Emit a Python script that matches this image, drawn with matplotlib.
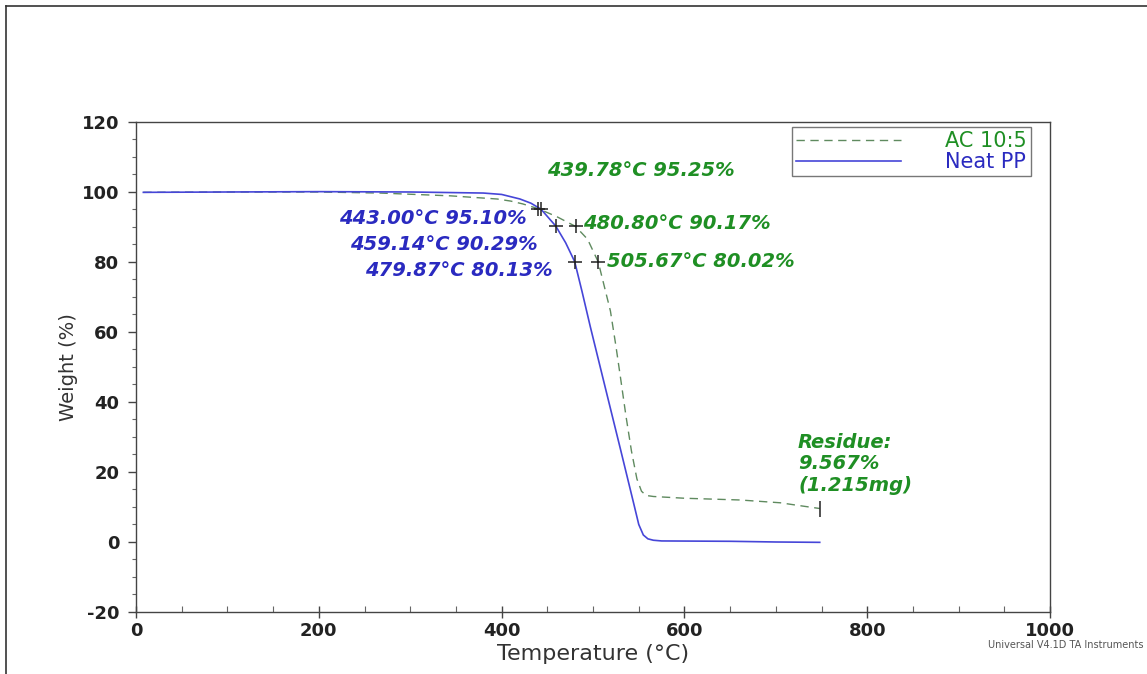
import numpy as np
import matplotlib
matplotlib.use("Agg")
import matplotlib.pyplot as plt
from matplotlib.lines import Line2D
from matplotlib.ticker import MultipleLocator


# constants
DPI = 100
FIG_SIZE = (11.47, 6.74)
plt.rcParams["axes.unicode_minus"] = False

GREEN_LINE = "#5f8a5f"
GREEN_TEXT = "#1f8f24"
BLUE_LINE = "#4646d8"
BLUE_TEXT = "#2a2ac0"

# data
# Neat PP
pp_temp = [8, 100, 200, 300, 380, 400, 420, 432, 443.00, 459.14, 470, 479.87,
           488, 497, 513, 530, 544, 550, 555, 560, 566, 575, 650, 700, 748]
pp_weight = [99.9, 100.0, 100.1, 100.0, 99.7, 99.3, 98.0, 96.8, 95.10, 90.29,
             85.5, 80.13, 71.5, 61.5, 44.5, 26.5, 11.5, 5.0, 2.0, 0.9, 0.5,
             0.3, 0.2, 0.0, -0.1]

# AC 10:5
ac_temp = [8, 100, 200, 267, 344, 395, 410, 423, 439.78, 460, 480.80, 494,
           505.67, 519, 525, 530, 536, 542, 548, 553, 558, 566, 600, 661, 705,
           723, 748]
ac_weight = [99.9, 100.0, 100.0, 99.7, 98.9, 98.0, 97.4, 96.6, 95.25, 93.0,
             90.17, 86.5, 80.02, 66.0, 56.0, 47.0, 36.0, 26.0, 18.0, 14.5,
             13.3, 13.0, 12.5, 12.0, 11.2, 10.5, 9.567]

# marked points (temperature, weight)
pp_marks_t = [443.00, 459.14, 479.87]
pp_marks_w = [95.10, 90.29, 80.13]
ac_marks_t = [439.78, 480.80, 505.67]
ac_marks_w = [95.25, 90.17, 80.02]
residue_t = 748
residue_w = 9.567
residue_mg = 1.215

fig = plt.figure(figsize=FIG_SIZE, dpi=DPI)
ax = fig.add_axes([0.1186, 0.092, 0.7969, 0.727])

# --------------------------------------------------------------------------
# curves
ax.plot(ac_temp, ac_weight, color=GREEN_LINE, lw=1.0, dashes=(6, 4),
        label="AC 10:5")
ax.plot(pp_temp, pp_weight, color=BLUE_LINE, lw=1.2, label="Neat PP")

# cross markers on the curves
ax.plot(pp_marks_t, pp_marks_w, "+", color="#222222", ms=10, mew=1.1)
ax.plot(ac_marks_t, ac_marks_w, "+", color="#222222", ms=10, mew=1.1)
ax.plot([residue_t], [residue_w], "|", color="#222222", ms=11, mew=1.1)

# --------------------------------------------------------------------------
# annotations
ann = dict(fontsize=14, fontweight="bold", fontstyle="italic", va="center")
ax.text(449.7, 106.0, f"{ac_marks_t[0]:.2f}°C {ac_marks_w[0]:.2f}%",
        color=GREEN_TEXT, ha="left", **ann)
ax.text(489.1, 90.9, f"{ac_marks_t[1]:.2f}°C {ac_marks_w[1]:.2f}%",
        color=GREEN_TEXT, ha="left", **ann)
ax.text(515.3, 80.0, f"{ac_marks_t[2]:.2f}°C {ac_marks_w[2]:.2f}%",
        color=GREEN_TEXT, ha="left", **ann)

ax.text(427.8, 92.3, f"{pp_marks_t[0]:.2f}°C {pp_marks_w[0]:.2f}%",
        color=BLUE_TEXT, ha="right", **ann)
ax.text(439.8, 85.1, f"{pp_marks_t[1]:.2f}°C {pp_marks_w[1]:.2f}%",
        color=BLUE_TEXT, ha="right", **ann)
ax.text(456.2, 77.7, f"{pp_marks_t[2]:.2f}°C {pp_marks_w[2]:.2f}%",
        color=BLUE_TEXT, ha="right", **ann)

ax.text(724.3, 22.3, f"Residue:\n{residue_w:.3f}%\n({residue_mg:.3f}mg)",
        color=GREEN_TEXT, ha="left", linespacing=1.15, **ann)

# --------------------------------------------------------------------------
# axes settings
ax.set_xlim(0, 1000)
ax.set_ylim(-20, 120)
ax.xaxis.set_major_locator(MultipleLocator(200))
ax.xaxis.set_minor_locator(MultipleLocator(50))
ax.yaxis.set_major_locator(MultipleLocator(20))
ax.yaxis.set_minor_locator(MultipleLocator(5))

for side in ax.spines.values():
    side.set_color("#444444")
    side.set_linewidth(1.0)

ax.tick_params(axis="x", which="major", direction="inout", length=8,
               width=1, color="#444444", pad=3)
ax.tick_params(axis="x", which="minor", direction="in", length=4,
               width=0.8, color="#666666")
ax.tick_params(axis="y", which="major", direction="out", length=6,
               width=1, color="#444444", pad=6)
ax.tick_params(axis="y", which="minor", direction="out", length=3,
               width=0.8, color="#666666")
for lab in ax.get_xticklabels() + ax.get_yticklabels():
    lab.set_fontsize(13)
    lab.set_fontweight("bold")
    lab.set_color("#222222")

ax.set_xlabel("Temperature (°C)", fontsize=16, color="#333333")
ax.set_ylabel("Weight (%)", fontsize=14, color="#333333")
ax.xaxis.set_label_coords(0.5, -0.066)
ax.yaxis.set_label_coords(-0.064, 0.5)

leg = ax.legend(loc="upper left", bbox_to_anchor=(0.7177, 0.99),
                borderaxespad=0, fontsize=15, handlelength=5.05,
                handletextpad=2.1, borderpad=0.2, labelspacing=0.05,
                fancybox=False, framealpha=1, edgecolor="#777777")
leg.get_frame().set_linewidth(1.0)
for txt, col in zip(leg.get_texts(), [GREEN_TEXT, BLUE_TEXT]):
    txt.set_color(col)

# instrument note and page frame
fig.text(0.997, 0.043, "Universal V4.1D TA Instruments", fontsize=7,
         color="#555555", ha="right", va="center")
fig.add_artist(Line2D([6 / 1147, 6 / 1147], [0, 1 - 6 / 674],
                      color="#333333", lw=1.2))
fig.add_artist(Line2D([6 / 1147, 1], [1 - 6 / 674, 1 - 6 / 674],
                      color="#333333", lw=1.2))

plt.savefig("out.png", dpi=DPI)
plt.close()
